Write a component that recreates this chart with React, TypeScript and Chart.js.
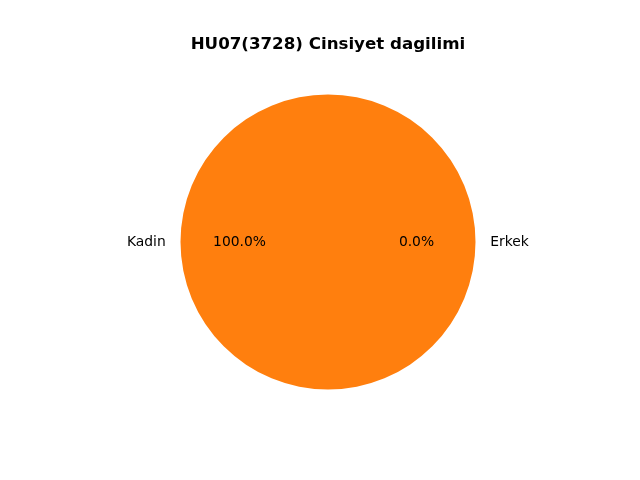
import React, { useEffect, useRef } from "react";
import { Chart, registerables } from "chart.js";

Chart.register(...registerables);

const TITLE = "HU07(3728) Cinsiyet dagilimi";
const categories = ["Erkek", "Kadin"];
const values = [0, 100];
const colors = ["#1f77b4", "#ff7f0e"];

const labelPlugin = {
  id: "mplLabels",
  afterDraw(chart: any) {
    const ctx = chart.ctx;
    const meta = chart.getDatasetMeta(0);
    const total = values.reduce((a, b) => a + b, 0);
    ctx.save();
    ctx.fillStyle = "#000";
    ctx.font = "bold 16.67px 'DejaVu Sans'";
    ctx.textAlign = "center";
    ctx.textBaseline = "alphabetic";
    const area = chart.chartArea;
    ctx.fillText(TITLE, (area.left + area.right) / 2, 49);
    ctx.font = "13.89px 'DejaVu Sans'";
    meta.data.forEach((arc: any, i: number) => {
      const { x, y, startAngle, endAngle, outerRadius } = arc.getProps(
        ["x", "y", "startAngle", "endAngle", "outerRadius"],
        true
      );
      const mid = (startAngle + endAngle) / 2;
      const cx = Math.cos(mid);
      const cy = Math.sin(mid);
      const lx = x + cx * outerRadius * 1.1;
      const ly = y + cy * outerRadius * 1.1;
      ctx.textAlign = cx < -1e-6 ? "right" : "left";
      ctx.fillText(categories[i], lx, ly + 4);
      const px = x + cx * outerRadius * 0.6;
      const py = y + cy * outerRadius * 0.6;
      ctx.textAlign = "center";
      const pct = ((values[i] / total) * 100).toFixed(1) + "%";
      ctx.fillText(pct, px, py + 4);
    });
    ctx.restore();
  },
};

export default function App() {
  const ref = useRef<HTMLCanvasElement>(null);
  useEffect(() => {
    document.body.style.margin = "0";
    const chart = new Chart(ref.current!, {
      type: "pie",
      data: {
        labels: categories,
        datasets: [
          {
            data: values,
            backgroundColor: colors,
            borderWidth: 0,
          },
        ],
      },
      options: {
        animation: false,
        responsive: false,
        rotation: 90,
        layout: { padding: { left: 180.5, right: 164.5, top: 94.5, bottom: 90.5 } },
        plugins: {
          legend: { display: false },
          title: { display: false },
          tooltip: { enabled: false },
        },
      },
      plugins: [labelPlugin],
    });
    return () => chart.destroy();
  }, []);
  return (
    <div style={{ width: 640, height: 480, background: "#fff" }}>
      <canvas ref={ref} width={640} height={480} style={{ width: 640, height: 480 }} />
    </div>
  );
}
